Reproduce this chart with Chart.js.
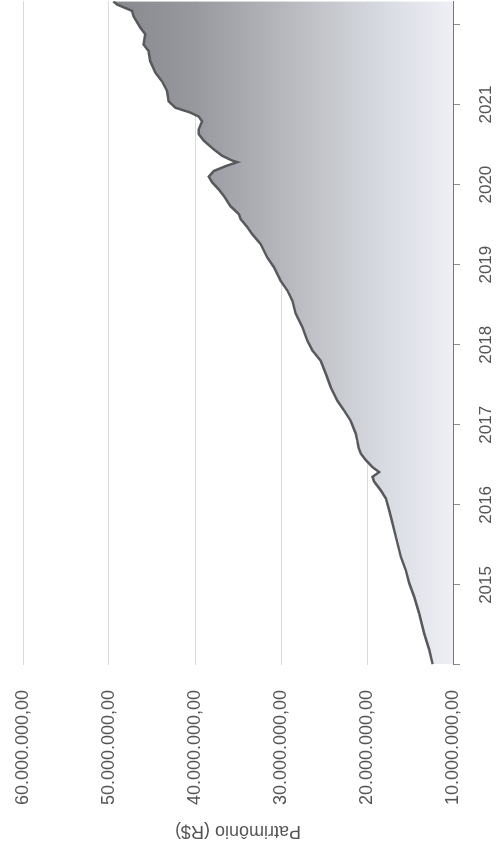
<!DOCTYPE html>
<html>
<head>
<meta charset="utf-8">
<script src="https://cdn.jsdelivr.net/npm/chart.js@4.4.0/dist/chart.umd.min.js"></script>
<style>
  html, body { margin: 0; padding: 0; background: #fff; width: 498px; height: 844px; overflow: hidden; }
  /* o gráfico é desenhado deitado (844x498) e girado para caber na página */
  #wrap { position: absolute; left: 0; top: 0; width: 844px; height: 498px;
          transform-origin: 0 0; transform: translate(0, 844px) rotate(-90deg); }
</style>
</head>
<body>
<div id="wrap"><canvas id="patrimonio"></canvas></div>
<script>
// datas em anos decimais, patrimonio em milhoes de R$
const anos = [
  2014.01, 2014.19, 2014.39, 2014.64, 2014.85, 2015.02, 2015.18, 2015.35, 2015.60, 2015.77,
  2015.93, 2016.08, 2016.18, 2016.29, 2016.35, 2016.41, 2016.47, 2016.56, 2016.64, 2016.72,
  2016.81, 2016.89, 2017.05, 2017.18, 2017.30, 2017.47, 2017.64, 2017.80, 2017.93, 2018.05,
  2018.22, 2018.39, 2018.55, 2018.68, 2018.80, 2018.97, 2019.09, 2019.26, 2019.38, 2019.47,
  2019.57, 2019.63, 2019.73, 2019.86, 2019.94, 2020.03, 2020.10, 2020.17, 2020.23, 2020.28,
  2020.30, 2020.36, 2020.44, 2020.55, 2020.63, 2020.69, 2020.79, 2020.85, 2020.90, 2020.96,
  2021.04, 2021.17, 2021.29, 2021.40, 2021.54, 2021.67, 2021.75, 2021.88, 2021.96, 2022.10,
  2022.17, 2022.25, 2022.29
];
const patrimonio = [
  12.37, 12.76, 13.35, 13.93, 14.51, 15.09, 15.48, 16.06, 16.64, 17.03,
  17.42, 17.81, 18.39, 19.17, 19.36, 18.59, 19.36, 20.14, 20.72, 21.00,
  21.15, 21.31, 21.89, 22.67, 23.44, 24.22, 24.80, 25.38, 26.35, 26.93,
  27.52, 28.30, 28.68, 29.27, 30.05, 30.83, 31.60, 32.38, 33.35, 33.93,
  34.71, 34.90, 35.87, 36.66, 37.24, 38.01, 38.40, 37.82, 36.46, 35.09,
  35.68, 36.84, 37.82, 38.99, 39.57, 39.57, 39.17, 39.57, 40.54, 42.28,
  43.07, 43.25, 43.83, 44.62, 45.20, 45.40, 45.98, 45.78, 46.36, 47.14,
  47.33, 49.08, 49.50
];
const ticksAno = [2015, 2016, 2017, 2018, 2019, 2020, 2021];
const valorMin = 10, valorMax = 60;

const fonte = '"Liberation Sans", Arial, sans-serif';
const pontos = anos.map((a, i) => ({ x: a, y: patrimonio[i] }));

let graficoPatrimonio = new Chart(document.getElementById('patrimonio'), {
    type: 'line',
    data: {
        datasets: [{
            label: 'Patrimônio',
            data: pontos,
            borderColor: '#58595d',
            borderWidth: 2.5,
            pointRadius: 0,
            tension: 0,
            fill: 'start',
            backgroundColor: ctx => {
                const area = ctx.chart.chartArea;
                if (!area) return '#bbbbbb';
                const g = ctx.chart.ctx.createLinearGradient(0, area.top, 0, area.bottom);
                g.addColorStop(0, '#76777b');
                g.addColorStop(0.4, '#98999e');
                g.addColorStop(0.65, '#bcbec4');
                g.addColorStop(0.85, '#dadce3');
                g.addColorStop(1, '#eef0f6');
                return g;
            }
        }]
    },
    options: {
        responsive: true,
        maintainAspectRatio: false,
        animation: false,
        layout: { padding: { top: 23, right: 0, left: 0, bottom: 0 } },
        plugins: { legend: { display: false }, tooltip: { enabled: false } },
        scales: {
            x: {
                type: 'linear',
                min: 2014,
                max: 2022.29,
                afterFit: s => { s.height = 45; },
                border: { display: true, color: '#77787c', width: 1 },
                grid: { drawOnChartArea: false, drawTicks: true, tickLength: 7, color: '#8a8b8f' },
                ticks: {
                    stepSize: 1,
                    includeBounds: false,
                    autoSkip: false,
                    maxRotation: 0,
                    padding: 16,
                    color: '#555',
                    font: { family: fonte, size: 17 },
                    callback: v => ticksAno.includes(v) ? String(v) : ''
                }
            },
            y: {
                min: valorMin,
                max: valorMax,
                afterFit: s => { s.width = 179; },
                border: { display: false },
                // marcas invisiveis so para afastar os rotulos da area do grafico
                grid: { color: '#d7dae0', lineWidth: 1, drawTicks: true, tickLength: 22, tickColor: 'rgba(0,0,0,0)' },
                ticks: {
                    stepSize: 10,
                    padding: 3,
                    color: '#555',
                    font: { family: fonte, size: 18 },
                    callback: v => v + '.000.000,00'
                },
                title: {
                    display: true,
                    text: 'Patrimônio (R$)',
                    color: '#555',
                    font: { family: fonte, size: 18 },
                    padding: { top: 2, bottom: 0 }
                }
            }
        }
    }
});
</script>
</body>
</html>
